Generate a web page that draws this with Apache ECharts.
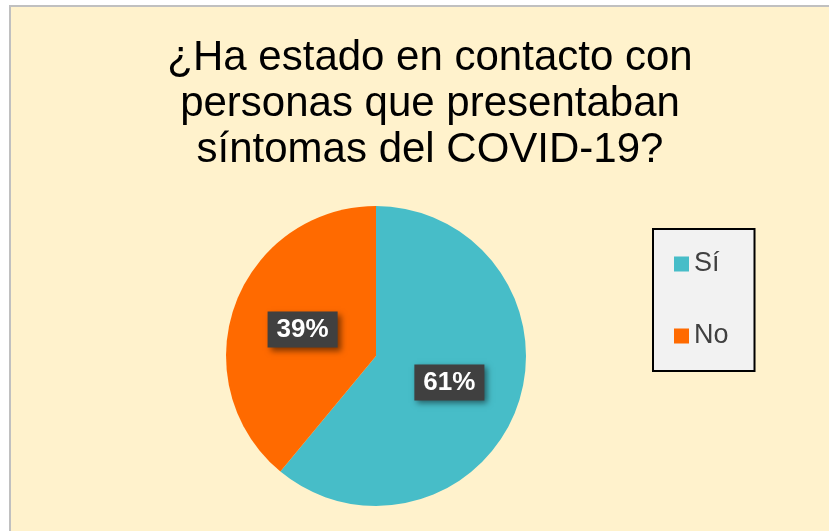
<!DOCTYPE html>
<html>
<head>
<meta charset="utf-8">
<script src="https://cdn.jsdelivr.net/npm/echarts@6/dist/echarts.min.js"></script>
<style>
  html, body { margin: 0; padding: 0; background: #fff; }
  #main { width: 829px; height: 531px; }
</style>
</head>
<body>
<div id="main"></div>
<script>
// datos del gráfico
const categorias = ['Sí', 'No'];
const valores = [61, 39];
const colores = ['#47BDC8', '#FF6A00'];
const titulo = '¿Ha estado en contacto con\npersonas que presentaban\nsíntomas del COVID-19?';

const chart = echarts.init(document.getElementById('main'));

let pieData = [];
for (let i = 0; i < categorias.length; i++) {
  pieData.push({
    name: categorias[i],
    value: valores[i],
    itemStyle: { color: colores[i] }
  });
}

const option = {
  backgroundColor: '#ffffff',
  animation: false,
  graphic: [
    {
      type: 'rect',
      shape: { x: 10, y: 6, width: 830, height: 540 },
      style: { fill: '#FFF2CC', stroke: '#C0C0C0', lineWidth: 2 },
      z: -10
    }
  ],
  title: {
    text: titulo,
    left: 425,
    top: 30,
    textAlign: 'center',
    textStyle: {
      fontFamily: 'Liberation Sans, Arial, sans-serif',
      fontSize: 42,
      fontWeight: 'normal',
      color: '#000',
      lineHeight: 46
    }
  },
  legend: {
    orient: 'vertical',
    left: 653,
    top: 229,
    data: categorias,
    icon: 'rect',
    itemWidth: 15,
    itemHeight: 15,
    itemGap: 42,
    padding: [20, 26, 20, 21],
    backgroundColor: '#F2F2F2',
    borderColor: '#000',
    borderWidth: 2,
    textStyle: {
      fontFamily: 'Liberation Sans, Arial, sans-serif',
      fontSize: 27,
      color: '#404040',
      lineHeight: 30
    }
  },
  series: [{
    type: 'pie',
    center: [376, 356],
    radius: 150,
    startAngle: 90,
    clockwise: true,
    data: pieData,
    label: {
      show: true,
      position: 'inside',
      formatter: '{d}%',
      fontFamily: 'Liberation Sans, Arial, sans-serif',
      fontSize: 26,
      fontWeight: 'bold',
      color: '#fff',
      backgroundColor: '#404040',
      padding: [6, 9, 4, 9],
      shadowColor: 'rgba(0,0,0,0.5)',
      shadowBlur: 6,
      shadowOffsetX: 3,
      shadowOffsetY: 3
    },
    labelLine: { show: false },
    emphasis: { disabled: true }
  }]
};

chart.setOption(option);
</script>
</body>
</html>
